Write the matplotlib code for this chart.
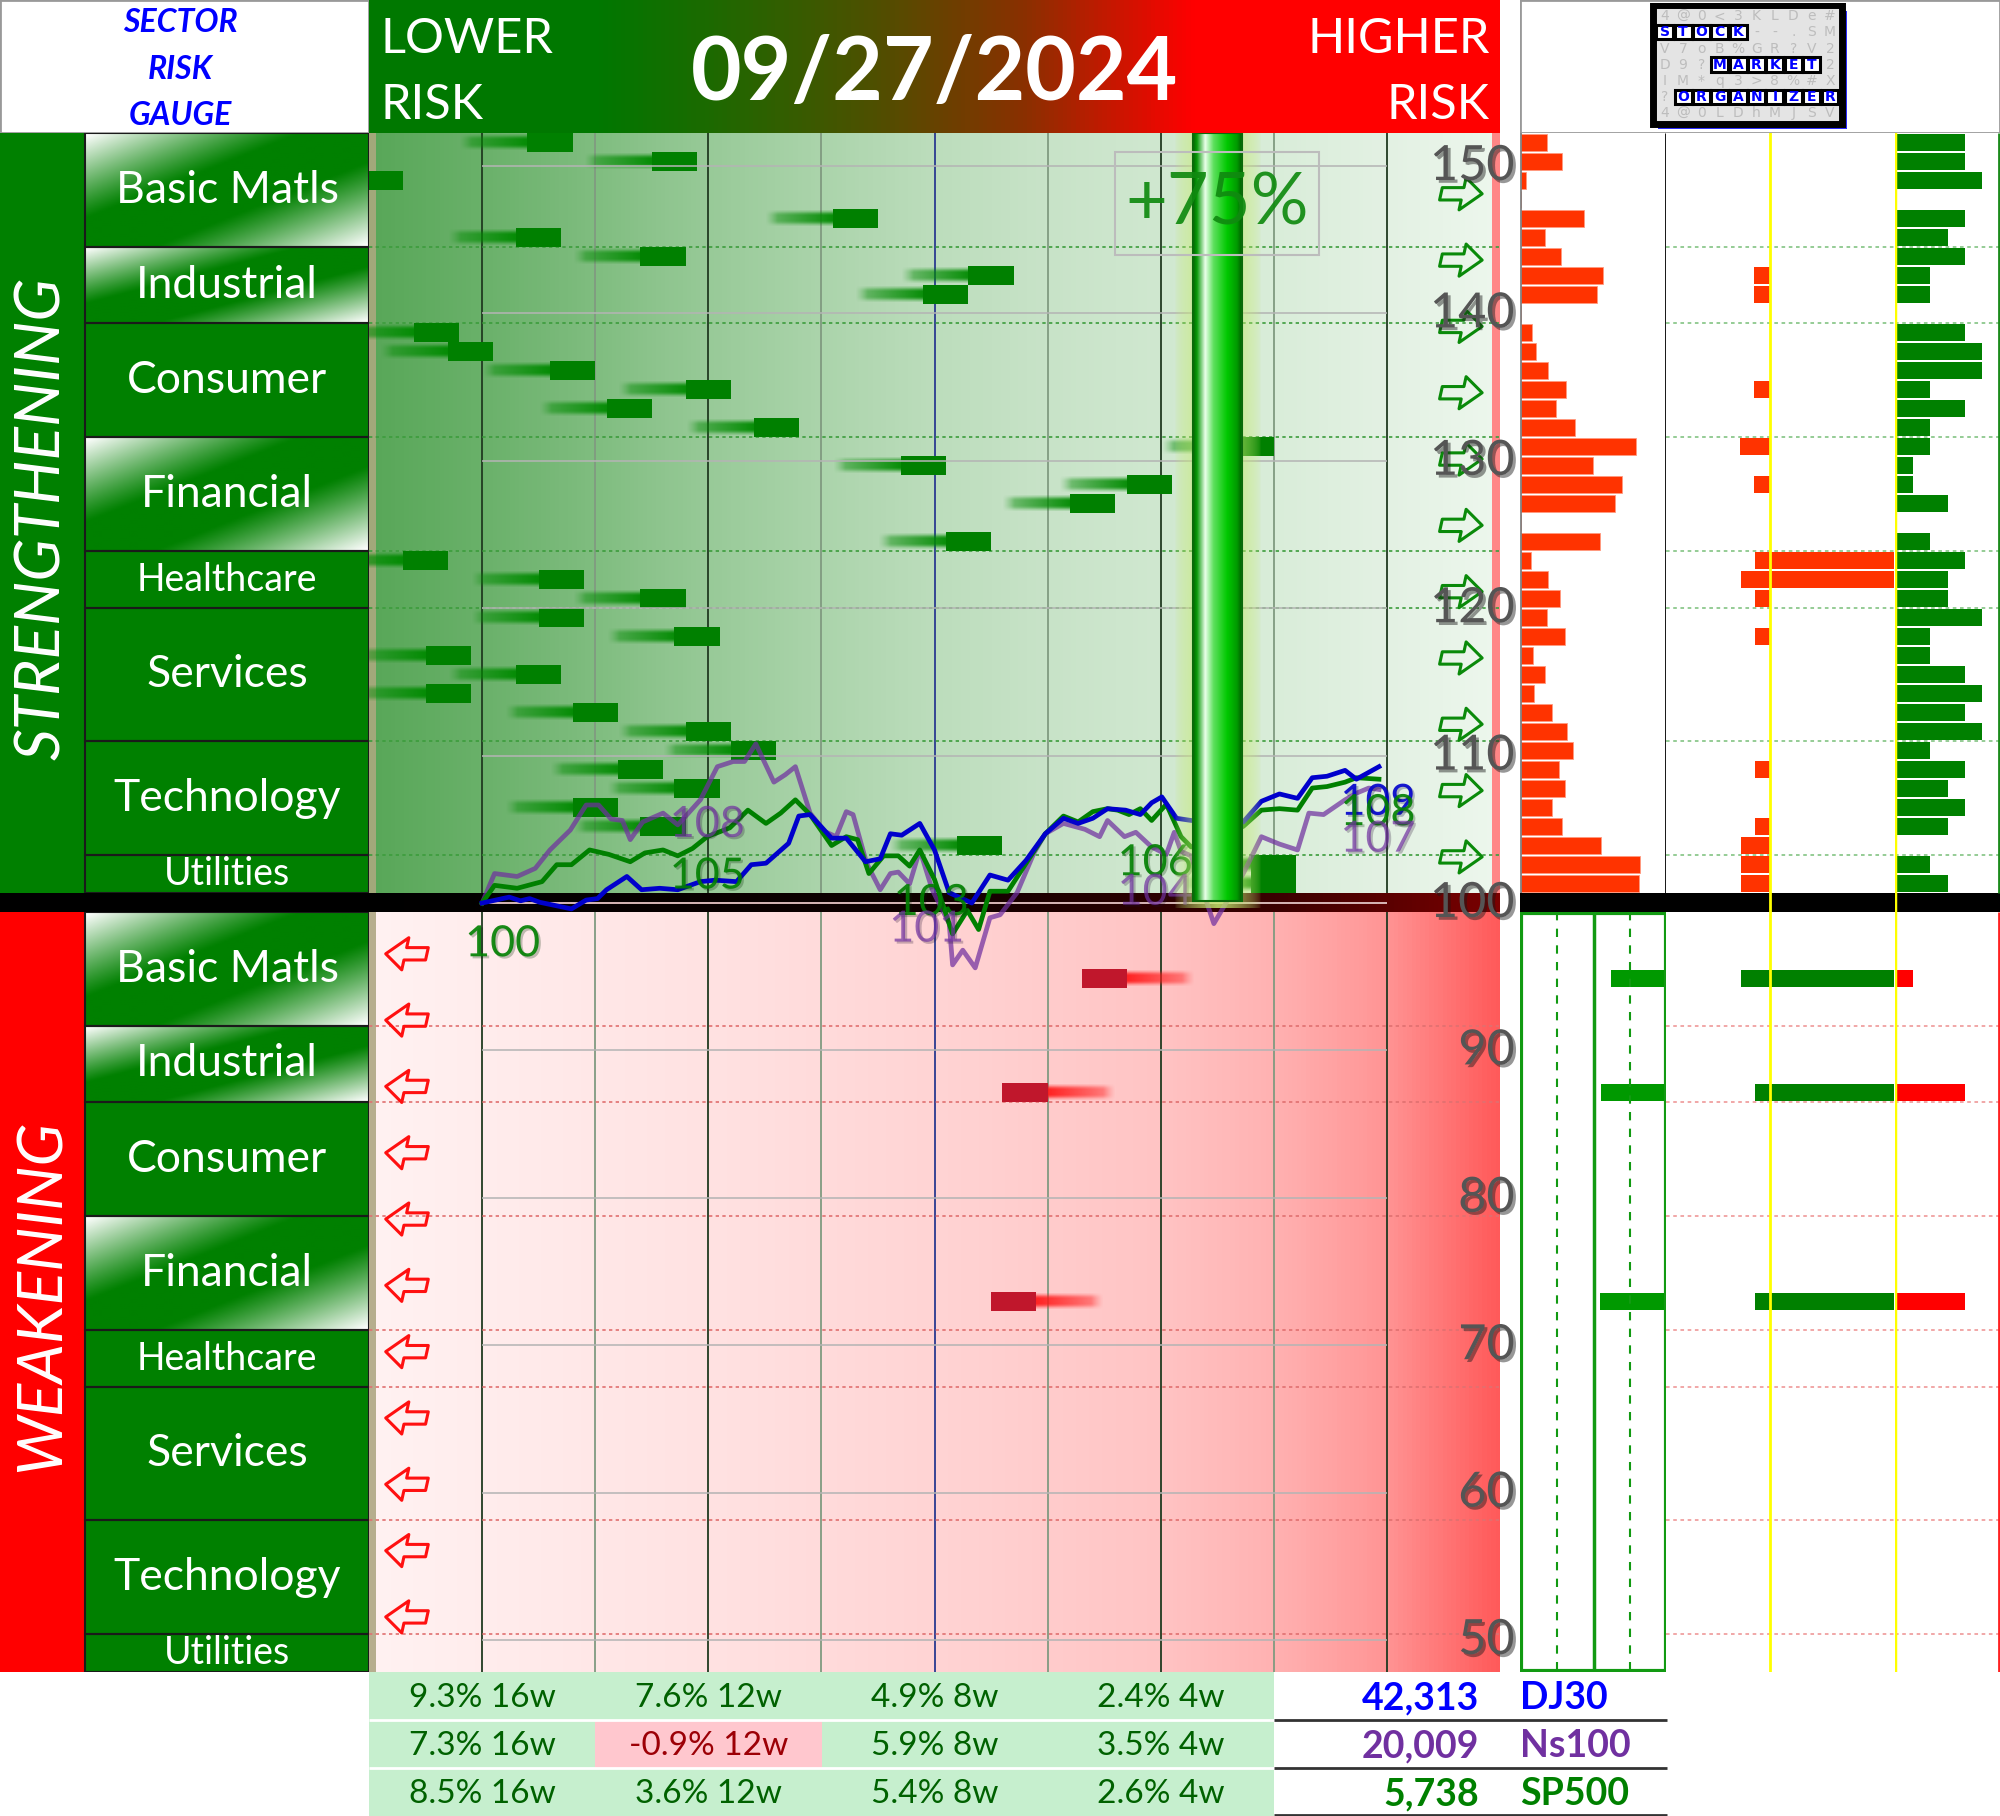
import numpy as np
import matplotlib.pyplot as plt
import matplotlib.patheffects as pe
from matplotlib.colors import LinearSegmentedColormap, to_rgb
from matplotlib.patches import Rectangle
from matplotlib.path import Path

plt.rcParams['font.family'] = ['Lato', 'DejaVu Sans']

# ---------------- data ----------------
date_txt = '09/27/2024'
gauge_pct = 75

sectors = ['Basic Matls', 'Industrial', 'Consumer', 'Financial',
           'Healthcare', 'Services', 'Technology', 'Utilities']
sector_rows = [6, 4, 6, 6, 3, 7, 6, 2]
sector_shine = [True, True, False, True, False, False, False, False]
sector_fs = [32, 32, 32, 32, 27, 32, 32, 27]

nan = np.nan
# strengthening half: day of the block's right edge (nan = stock is weakening)
up_block = [8, 19, -7, nan, 35, 7, 18, 47, 43, nan,
            -2, 1, 10, 22, 15, 28, 70, 41, 61, 56,
            nan, 45, -3, 9, 18, 9, 21, -1, 7, -1,
            12, 22, 26, 16, 21, 12, 18, 46, 72, 72]
# weakening half: day of the block's left edge
dn_block = [nan, nan, nan, 53, nan, nan, nan, nan, nan, 46,
            nan, nan, nan, nan, nan, nan, nan, nan, nan, nan,
            45, nan, nan, nan, nan, nan, nan, nan, nan, nan,
            nan, nan, nan, nan, nan, nan, nan, nan, nan, nan]

# right panel columns
colA_up = [26, 41, 5, 0, 63, 24, 40, 82, 76, 0,
           11, 15, 27, 45, 35, 54, 115, 72, 101, 94,
           0, 79, 10, 27, 39, 26, 44, 12, 24, 13,
           31, 46, 52, 38, 44, 31, 41, 80, 119, 118]
colA_dn = [0, 0, 0, 55, 0, 0, 0, 0, 0, 65,
           0, 0, 0, 0, 0, 0, 0, 0, 0, 0,
           66, 0, 0, 0, 0, 0, 0, 0, 0, 0,
           0, 0, 0, 0, 0, 0, 0, 0, 0, 0]
colB_up_l = [0, 0, 0, 0, 0, 0, 0, 16, 16, 0,
             0, 0, 0, 16, 0, 0, 30, 0, 16, 0,
             0, 0, 15, 29, 15, 0, 15, 0, 0, 0,
             0, 0, 0, 15, 0, 0, 15, 29, 29, 29]
colB_up_r = [0, 0, 0, 0, 0, 0, 0, 0, 0, 0,
             0, 0, 0, 0, 0, 0, 0, 0, 0, 0,
             0, 0, 124, 124, 0, 0, 0, 0, 0, 0,
             0, 0, 0, 0, 0, 0, 0, 0, 0, 0]
colB_dn_l = [0, 0, 0, 29, 0, 0, 0, 0, 0, 15,
             0, 0, 0, 0, 0, 0, 0, 0, 0, 0,
             15, 0, 0, 0, 0, 0, 0, 0, 0, 0,
             0, 0, 0, 0, 0, 0, 0, 0, 0, 0]
colB_dn_r = [0, 0, 0, 124, 0, 0, 0, 0, 0, 124,
             0, 0, 0, 0, 0, 0, 0, 0, 0, 0,
             124, 0, 0, 0, 0, 0, 0, 0, 0, 0,
             0, 0, 0, 0, 0, 0, 0, 0, 0, 0]
colC_up = [4, 4, 5, 0, 4, 3, 4, 2, 2, 0,
           4, 5, 5, 2, 4, 2, 2, 1, 1, 3,
           0, 2, 4, 3, 3, 5, 2, 2, 4, 5,
           4, 5, 2, 4, 3, 4, 3, 0, 2, 3]
colC_dn = [0, 0, 0, 1, 0, 0, 0, 0, 0, 4,
           0, 0, 0, 0, 0, 0, 0, 0, 0, 0,
           4, 0, 0, 0, 0, 0, 0, 0, 0, 0,
           0, 0, 0, 0, 0, 0, 0, 0, 0, 0]

# index lines (trading day, value rebased to 100)
dj_day = [0, 2.4, 3.4, 4.2, 5.1, 7.9, 9.2, 10.2, 11.0, 12.8, 14.1, 15.7, 17.3, 19.3,
          20.6, 22.5, 23.8, 25.1, 27.1, 28.0, 29.0, 30.9, 32.2, 33.9, 35.2, 36.1,
          37.1, 38.7, 40.0, 41.3, 43.3, 44.9, 46.5, 48.1, 49.8, 51.4, 52.7, 54.0,
          55.3, 56.9, 58.2, 59.2, 60.1, 61.4, 62.7, 67.3, 68.9, 70.5, 72.1, 73.4,
          74.7, 76.3, 77.3, 79.3]
dj_val = [100.0, 100.4, 100.15, 100.3, 100.05, 99.6, 100.2, 100.3, 100.9, 101.8,
          100.9, 101.0, 100.9, 101.45, 101.55, 101.45, 102.6, 102.7, 104.05, 105.9,
          106.0, 104.4, 104.4, 102.8, 103.0, 104.7, 104.6, 105.4, 103.6, 100.7,
          100.0, 101.9, 101.55, 102.9, 104.7, 105.75, 105.4, 105.75, 106.4, 106.3,
          106.0, 106.8, 107.2, 105.75, 105.6, 105.5, 106.9, 107.4, 107.1, 108.5,
          108.6, 109.0, 108.4, 109.25]
sp_day = [0, 1.1, 3.1, 5.3, 6.6, 7.9, 9.5, 11.2, 13.1, 14.4, 16.0, 17.3, 18.6, 19.9,
          21.9, 23.5, 25.1, 26.4, 27.7, 29.0, 30.9, 32.2, 33.2, 34.2, 35.5, 36.8,
          37.8, 38.7, 40.0, 41.6, 42.9, 43.9, 44.9, 46.5, 48.1, 49.8, 51.4, 52.7,
          54.0, 55.3, 56.2, 57.2, 58.2, 59.2, 60.5, 61.8, 62.7, 67.3, 68.9, 70.5,
          72.1, 73.4, 74.7, 76.3, 77.3, 79.3]
sp_val = [100.0, 101.2, 101.0, 101.45, 102.6, 102.6, 103.6, 103.3, 102.8, 103.4,
          103.6, 103.2, 103.7, 104.5, 105.1, 106.3, 105.4, 106.1, 107.0, 106.0,
          103.9, 104.5, 104.3, 102.0, 103.2, 103.2, 102.5, 103.6, 101.6, 97.9,
          99.5, 98.2, 100.8, 100.8, 102.7, 104.7, 105.9, 105.5, 106.2, 106.4,
          106.3, 106.0, 106.4, 105.6, 106.7, 104.5, 103.8, 105.2, 106.3, 106.4,
          106.3, 107.8, 107.9, 108.2, 108.5, 108.4]
ns_day = [0, 1.1, 3.1, 4.7, 6.0, 7.8, 9.2, 10.3, 11.4, 12.4, 13.1, 14.2, 16.0, 17.3,
          19.3, 20.8, 22.2, 23.2, 24.2, 25.8, 26.8, 27.7, 29.0, 30.3, 31.3, 32.2,
          32.8, 34.0, 35.2, 36.1, 36.8, 37.8, 38.7, 39.8, 41.3, 41.6, 42.5, 43.6,
          44.9, 45.8, 47.3, 48.8, 49.8, 51.4, 53.3, 54.6, 55.3, 56.8, 57.8, 59.2,
          60.5, 61.2, 61.8, 62.7, 64.7, 67.3, 68.9, 70.5, 72.1, 73.1, 74.4, 76.3,
          77.3, 78.4, 79.3]
ns_val = [100.0, 102.0, 101.8, 102.35, 103.6, 104.95, 106.65, 106.65, 105.7, 105.6,
          104.3, 105.5, 106.1, 105.3, 107.0, 109.25, 109.6, 109.6, 110.8, 108.2,
          108.7, 109.25, 106.1, 104.85, 104.5, 106.2, 106.0, 102.7, 100.9, 102.0,
          102.1, 101.3, 103.6, 100.9, 98.6, 95.8, 96.8, 95.6, 99.0, 99.2,
          100.7, 103.4, 104.7, 105.4, 105.0, 104.5, 105.6, 104.5, 104.8, 103.8,
          103.3, 104.8, 103.5, 103.2, 98.6, 102.0, 104.5, 104.0, 103.6, 106.1,
          106.0, 107.0, 107.45, 107.8, 107.7]

lab_day = [1.8, 19.9, 19.9, 39.7, 39.3, 59.5, 59.5, 79.2, 79.2, 79.2]
lab_val = [97.2, 105.3, 101.8, 100.0, 98.2, 102.7, 100.7, 106.8, 106.1, 104.3]
lab_txt = ['100', '108', '105', '103', '101', '106', '104', '109', '108', '107']
lab_ser = ['sp', 'ns', 'sp', 'sp', 'ns', 'sp', 'ns', 'dj', 'sp', 'ns']
ser_col = {'dj': '#0000cc', 'sp': '#008000', 'ns': '#7030a0'}

axis_vals = [150, 140, 130, 120, 110, 100, 90, 80, 70, 60, 50]

idx_names = ['DJ30', 'Ns100', 'SP500']
idx_close = [42313, 20009, 5738]
idx_cols = ['#0000ff', '#7030a0', '#008000']
weeks = [16, 12, 8, 4]
idx_chg = [[9.3, 7.6, 4.9, 2.4],
           [7.3, -0.9, 5.9, 3.5],
           [8.5, 3.6, 5.4, 2.6]]

# ---------------- figure ----------------
W, H = 2000, 1816
fig = plt.figure(figsize=(W / 100, H / 100), dpi=100)


def panel(x0, y0, x1, y1, z=1):
    ax = fig.add_axes([x0 / W, 1 - y1 / H, (x1 - x0) / W, (y1 - y0) / H], zorder=z)
    ax.set_axis_off()
    return ax


def tail(ax, x0, x1, row, color, rising):
    t = np.linspace(0, 1, 60)
    a = (0.3 + 0.7 * t ** 0.8) * np.clip(t / 0.18, 0, 1)
    if not rising:
        a = a[::-1]
    prof = np.array([0.15, 0.5, 0.85, 1, 1, 1, 1, 0.85, 0.5, 0.15])
    img = np.zeros((len(prof), len(a), 4))
    img[..., :3] = to_rgb(color)
    img[..., 3] = prof[:, None] * a[None, :] * 0.95
    ax.imshow(img, extent=(x0, x1, row + 0.9, row + 0.1), aspect='auto',
              interpolation='bilinear', zorder=2)


# outlined, slightly slanted arrow marker
arr = np.array([(-1, -0.3), (0.05, -0.3), (0.05, -0.78), (1, 0), (0.05, 0.78),
                (0.05, 0.3), (-1, 0.3), (-1, -0.3)])
arr_r = Path(np.column_stack([arr[:, 0] + 0.22 * arr[:, 1], arr[:, 1]]), closed=True)
arr_l = Path(np.column_stack([-arr[:, 0] + 0.22 * arr[:, 1], arr[:, 1]]), closed=True)

grad = np.linspace(0, 1, 256)[None, :]
up_cmap = LinearSegmentedColormap.from_list('up', [
    (0, '#58a758'), (0.1, '#6ab16a'), (0.2, '#80bd80'), (0.3, '#98ca98'),
    (0.4, '#abd4ab'), (0.5, '#bcddbc'), (0.6, '#c8e3c8'), (0.7, '#d0e8d0'),
    (0.8, '#d9edd9'), (0.9, '#e3f1e3'), (1, '#edf7ed')])
dn_cmap = LinearSegmentedColormap.from_list('dn', [
    (0, '#fff2f2'), (0.3, '#ffe2e2'), (0.5, '#ffd4d4'), (0.7, '#ffc4c4'),
    (0.8, '#ffb2b2'), (0.9, '#ff9595'), (1, '#ff5a5a')])
band_cmap = LinearSegmentedColormap.from_list('band', [
    (0, '#000000'), (0.5, '#100000'), (0.8, '#3a0000'), (1, '#7a0000')])
head_cmap = LinearSegmentedColormap.from_list('head', [
    (0, '#007800'), (0.2, '#007800'), (0.3, '#1c6a00'), (0.45, '#504f00'),
    (0.58, '#8a3000'), (0.73, '#ff0000'), (1, '#ff0000')])

# ---- header ----
axS = panel(0, 0, 369, 133)
axS.add_patch(Rectangle((0, 0), 1, 1, transform=axS.transAxes, fc='white', ec='#999999', lw=2))
for yy, t in zip([0.83, 0.48, 0.135], ['SECTOR', 'RISK', 'GAUGE']):
    axS.text(0.49, yy, t, transform=axS.transAxes, ha='center', va='center', color='#0000ff',
             fontsize=23, fontweight='bold', style='italic')

axH = panel(369, 0, 1500, 133)
axH.imshow(grad, cmap=head_cmap, extent=(0, 1, 0, 1), aspect='auto', transform=axH.transAxes)
axH.text(0.0106, 0.71, 'LOWER', transform=axH.transAxes, color='white', fontsize=35, va='center')
axH.text(0.0106, 0.21, 'RISK', transform=axH.transAxes, color='white', fontsize=35, va='center')
axH.text(0.991, 0.71, 'HIGHER', transform=axH.transAxes, color='white', fontsize=35, va='center', ha='right')
axH.text(0.991, 0.21, 'RISK', transform=axH.transAxes, color='white', fontsize=35, va='center', ha='right')
axH.text(0.5, 0.44, date_txt, transform=axH.transAxes, color='white', fontsize=63,
         fontweight='bold', ha='center', va='center')

# logo
axO = panel(1520, 0, 2000, 133)
axO.add_patch(Rectangle((0, 0), 1, 1, transform=axO.transAxes, fc='white', ec='#999999', lw=2))
logo_rows = ['4@0<3KLDe#', 'STOCK--.SM', 'V7oB%GR?V2', 'D9?MARKET2',
             'IM*q3>8%#X', '?ORGANIZER', '4@0LDhMJSV']
logo_hi = [(1, 0, 5), (3, 3, 9), (5, 1, 10)]
axG = panel(1650, 3, 1852, 130, z=2)
axG.set_xlim(-0.3, 10.7)
axG.set_ylim(7.55, -0.3)
axG.add_patch(Rectangle((0.15, 0.2), 10.3, 7.3, fc='#2b2bff', ec='none'))
axG.add_patch(Rectangle((-0.15, -0.15), 10.3, 7.3, fc='#e4e4e4', ec='black', lw=5))
for r, s in enumerate(logo_rows):
    for c, ch in enumerate(s):
        hi = any(r == hr and a <= c < b for hr, a, b in logo_hi)
        if hi:
            axG.add_patch(Rectangle((c + 0.04, r + 0.06), 0.92, 0.88, fc='white', ec='black', lw=2.2))
            axG.text(c + 0.5, r + 0.52, ch, ha='center', va='center', fontsize=10,
                     color='#0000ff', fontweight='bold', family='DejaVu Sans')
        else:
            axG.text(c + 0.5, r + 0.52, ch, ha='center', va='center', fontsize=10,
                     color='#bdbdbd', family='DejaVu Sans')

# ---- left labels ----
axL = panel(0, 133, 369, 1672)
strip = 85 / 369
axL.add_patch(Rectangle((0, 0), strip, 40, fc='#008000', ec='none'))
axL.add_patch(Rectangle((0, 41), strip, 40, fc='#ff0000', ec='none'))
axL.add_patch(Rectangle((0, 40), 1, 1, fc='black', ec='none', zorder=3))
axL.text(strip / 2, 20.3, 'STRENGTHENING', rotation=90, ha='center', va='center', color='white',
         fontsize=45, style='italic', family=['Liberation Sans Narrow', 'Lato'])
axL.text(strip / 2, 61.2, 'WEAKENING', rotation=90, ha='center', va='center', color='white',
         fontsize=45, style='italic', family=['Liberation Sans Narrow', 'Lato'])
uu = np.linspace(0, 1, 80)[None, :]
vv = np.linspace(0, 1, 40)[:, None]
ff = np.clip((np.abs(uu + vv - 1) - 0.25) / 0.75, 0, 1) ** 1.1
shine = np.array(to_rgb('#008000'))[None, None, :] * (1 - ff[..., None]) + ff[..., None]
starts = np.concatenate([[0], np.cumsum(sector_rows)[:-1]])
for off in [0, 41]:
    for name, s, n, sh, fs in zip(sectors, starts, sector_rows, sector_shine, sector_fs):
        if sh:
            axL.imshow(shine, extent=(strip, 1, off + s + n, off + s), aspect='auto',
                       interpolation='bilinear', zorder=1)
        else:
            axL.add_patch(Rectangle((strip, off + s), 1 - strip, n, fc='#008000', ec='none', zorder=1))
        axL.add_patch(Rectangle((strip, off + s), 1 - strip, n, fill=False, ec='#1a1a1a', lw=1.5, zorder=2))
        axL.text((strip + 1) / 2, off + s + n / 2, name, ha='center', va='center', color='white',
                 fontsize=fs, zorder=3)
axL.set_xlim(0, 1)
axL.set_ylim(81, 0)

# ---- main chart (row units) ----
ax = panel(369, 133, 1500, 1672, z=1)
ax.imshow(grad, cmap=up_cmap, extent=(-10, 90, 40, 0), aspect='auto', zorder=0)
ax.imshow(grad, cmap=dn_cmap, extent=(-10, 90, 81, 41), aspect='auto', zorder=0)
ax.add_patch(Rectangle((-10, 0), 0.6, 40, fc='#a2a87a', ec='none', zorder=0.5))
ax.add_patch(Rectangle((-10, 41), 0.6, 40, fc='#b6ae8e', ec='none', zorder=0.5))
ax.add_patch(Rectangle((89.3, 0), 0.7, 40, fc='#ff8686', ec='none', zorder=0.5))
vcols = ['#203a20', '#809a80', '#203a20', '#809a80', '#2a3a90', '#809a80', '#203a20', '#809a80', '#203a20']
for d, c in zip(range(0, 90, 10), vcols):
    ax.axvline(d, color=c, lw=1.3, zorder=1)
bounds = np.cumsum(sector_rows)[:-1]
ax.hlines(bounds, -10, 90, colors='#3c9c3c', linestyles=(0, (2, 2)), lw=1.2, zorder=1.5)
ax.hlines(bounds + 41, -10, 90, colors='#e07070', linestyles=(0, (2, 2)), lw=1.2, zorder=1.5)
ax.imshow(grad, cmap=band_cmap, extent=(-10, 90, 41, 40), aspect='auto', zorder=3)

for r, d in enumerate(up_block):
    if np.isnan(d):
        continue
    tail(ax, d - 10, d - 4, r, '#008a00', True)
    ax.add_patch(Rectangle((d - 4, r + 0.02), 4, 0.96, fc='#008000', ec='none', zorder=2.5))
for r, d in enumerate(dn_block):
    if np.isnan(d):
        continue
    ax.add_patch(Rectangle((d, 41 + r + 0.02), 4, 0.96, fc='#c0172c', ec='none', zorder=2.5))
    tail(ax, d + 4, d + 10, 41 + r, '#ff1a1a', False)

arrow_rows = np.linspace(3.2, 38.1, 11)
ax.scatter(np.full(11, 86.6), arrow_rows, marker=arr_r, s=1000, facecolors='none',
           edgecolors='#0a8a0a', linewidths=2.2, zorder=4)
ax.scatter(np.full(11, -6.7), arrow_rows + 40, marker=arr_l, s=1000, facecolors='none',
           edgecolors='#ff1010', linewidths=2.2, zorder=4)
ax.set_xlim(-10, 90)
ax.set_ylim(81, 0)

# ---- index lines (value units) ----
axl = panel(369, 133, 1500, 1672, z=2)
axl.hlines([v for v in axis_vals if v != 100], 0, 80, colors='#b4b4b4', lw=1.4, alpha=0.8)
axl.hlines(100, 0, 80, colors='#d8b8b8', lw=1.4)
axl.plot(ns_day, ns_val, color=ser_col['ns'], alpha=0.72, lw=3.4)
axl.plot(sp_day, sp_val, color=ser_col['sp'], lw=3.4)
axl.plot(dj_day, dj_val, color=ser_col['dj'], lw=3.4)
shadow = [pe.withSimplePatchShadow(offset=(1.5, -1.5), alpha=0.25)]
for d, v, t, s in zip(lab_day, lab_val, lab_txt, lab_ser):
    axl.text(d, v, t, color=ser_col[s], alpha=0.7 if s == 'ns' else 0.9, fontsize=31,
             ha='center', va='center', path_effects=shadow)
for v in axis_vals:
    axl.text(91.3, v, str(v), color='#555555', fontsize=35, ha='right', va='center',
             path_effects=[pe.withSimplePatchShadow(offset=(2, -2), alpha=0.45)], zorder=5)
axl.set_xlim(-10, 90)
axl.set_ylim(47.83, 152.24)

# ---- gauge bar ----
axg = panel(369, 133, 1500, 1672, z=3)
glow_x = np.linspace(-1, 1, 60)
glow = np.zeros((1, 60, 4))
glow[..., :3] = to_rgb('#c6ea70')
glow[0, :, 3] = np.clip(1 - np.abs(glow_x), 0, 1) ** 0.6 * 0.85
axg.imshow(glow, extent=(61.2, 68.9, 40.8, 0), aspect='auto', interpolation='bilinear', zorder=1)
bar_cmap = LinearSegmentedColormap.from_list('bar', [
    (0, '#006800'), (0.08, '#0a9a0a'), (0.25, '#eaffea'), (0.42, '#5ee05e'),
    (0.7, '#00c800'), (0.9, '#009a00'), (1, '#006000')])
axg.imshow(grad, cmap=bar_cmap, extent=(62.9, 67.2, 40.4, 0), aspect='auto', zorder=2)
axg.add_patch(Rectangle((62.9, 0), 4.3, 40.4, fill=False, ec='#0a6a0a', lw=1.5, zorder=3))
axg.add_patch(Rectangle((56, 1.0), 18, 5.4, fill=False, ec='#bcbcbc', lw=1.5, zorder=3))
axg.text(65, 3.75, f'+{gauge_pct}%', color='#108a10', fontsize=52, ha='center', va='center',
         alpha=0.92, zorder=4)
axg.set_xlim(-10, 90)
axg.set_ylim(81, 0)

# ---- right panel ----
rows = np.arange(40)
axA = panel(1520, 133, 1666, 1672)
axA.barh(rows + 0.5, colA_up, left=1, height=0.88, color='#ff3300', ec='#ff9a80', lw=0.6)
axA.barh(rows + 41.5, [-v for v in colA_dn], left=146, height=0.88, color='#009900', lw=0)
axA.add_patch(Rectangle((1, 41.05), 145, 39.9, fill=False, ec='#129a12', lw=3))
axA.vlines(73.5, 41, 81, color='#129a12', lw=2.5)
axA.vlines([37, 110], 41, 81, color='#129a12', lw=1.5, linestyles=(0, (4, 4)))
axA.vlines(0.5, 0, 40, color='#777777', lw=1.2)
axA.vlines(145.5, 0, 40, color='black', lw=2)
axA.add_patch(Rectangle((0, 40), 146, 1, fc='black', ec='none', zorder=2))
axA.set_xlim(0, 146)
axA.set_ylim(81, 0)

axB = panel(1666, 133, 1895, 1672)
axB.barh(rows + 0.5, [-v for v in colB_up_l], height=0.88, color='#ff3300', lw=0)
axB.barh(rows + 0.5, colB_up_r, height=0.88, color='#ff3300', lw=0)
axB.barh(rows + 41.5, [-v for v in colB_dn_l], height=0.88, color='#008000', lw=0)
axB.barh(rows + 41.5, colB_dn_r, height=0.88, color='#008000', lw=0)
axB.hlines(bounds, -104, 125, colors='#8cc88c', linestyles=(0, (2, 2)), lw=1.3)
axB.hlines(bounds + 41, -104, 125, colors='#f0a0a0', linestyles=(0, (2, 2)), lw=1.3)
axB.add_patch(Rectangle((-104, 40), 229, 1, fc='black', ec='none', zorder=2))
axB.axvline(0, color='#ffff00', lw=2, zorder=3)
axB.set_xlim(-104, 125)
axB.set_ylim(81, 0)

axC = panel(1895, 133, 2000, 1672)
axC.barh(rows + 0.5, colC_up, left=0.05, height=0.88, color='#008000', lw=0)
axC.barh(rows + 41.5, colC_dn, left=0.05, height=0.88, color='#ff0000', lw=0)
axC.hlines(bounds, 0, 6.1, colors='#8cc88c', linestyles=(0, (2, 2)), lw=1.3)
axC.hlines(bounds + 41, 0, 6.1, colors='#f0a0a0', linestyles=(0, (2, 2)), lw=1.3)
axC.add_patch(Rectangle((0, 40), 6.1, 1, fc='black', ec='none', zorder=2))
axC.axvline(0.0, color='#ffff00', lw=2.5, zorder=3)
axC.vlines(6.03, 0, 40, color='#1a8a1a', lw=2)
axC.vlines(6.03, 41, 81, color='#ff2020', lw=2)
axC.set_xlim(0, 6.1)
axC.set_ylim(81, 0)

# ---- bottom table ----
axT = panel(369, 1672, 2000, 1816)
for r in range(3):
    for c in range(4):
        v = idx_chg[r][c]
        fc, tc = ('#c6efce', '#006100') if v >= 0 else ('#ffc7ce', '#9c0006')
        axT.add_patch(Rectangle((c, r), 1, 1, fc=fc, ec='none'))
        axT.text(c + 0.5, r + 0.55, f'{v:.1f}% {weeks[c]}w', color=tc, fontsize=24,
                 ha='center', va='center')
    axT.text(4.906, r + 0.55, f'{idx_close[r]:,}', color=idx_cols[r], fontsize=27,
             fontweight='bold', ha='right', va='center')
    axT.text(5.087, r + 0.55, idx_names[r], color=idx_cols[r], fontsize=27,
             fontweight='bold', ha='left', va='center')
axT.hlines([1, 2], 0, 4, colors='white', lw=2)
axT.hlines([1, 2, 2.985], 4, 5.737, colors='#333333', lw=2)
axT.set_xlim(0, 1631 / 226.25)
axT.set_ylim(3, 0)

fig.savefig('out.png', dpi=100)
